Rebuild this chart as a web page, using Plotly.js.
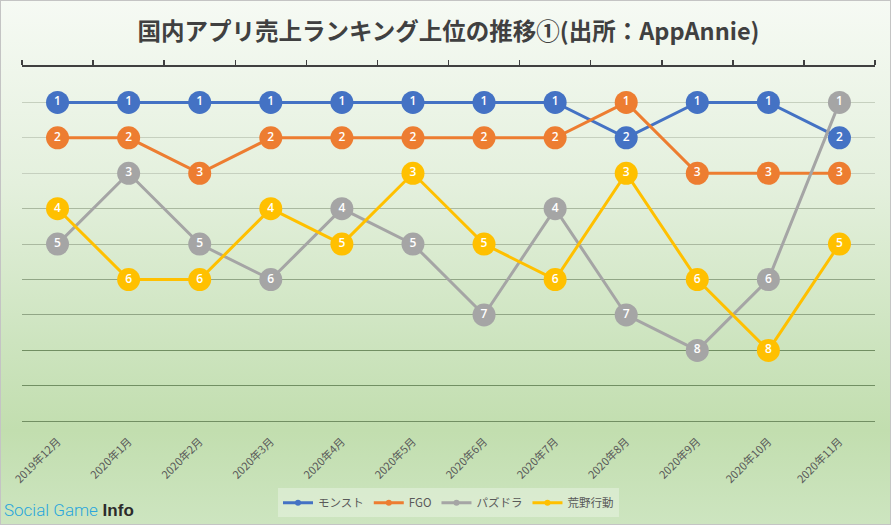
<!DOCTYPE html>
<html>
<head>
<meta charset="utf-8">
<script src="https://cdn.plot.ly/plotly-3.0.1.min.js"></script>
<style>
  html, body { margin: 0; padding: 0; }
  #chart {
    width: 891px; height: 525px;
    background: linear-gradient(to bottom, #f6faf4 0%, #e4f0dd 35%, #cde4bf 65%, #c2deaf 82%, #cde5c0 100%);
    box-shadow: inset 0 0 0 1px #c4c4c4;
  }
</style>
</head>
<body>
<div id="chart"></div>
<script>
const categories = ["2019年12月","2020年1月","2020年2月","2020年3月","2020年4月","2020年5月","2020年6月","2020年7月","2020年8月","2020年9月","2020年10月","2020年11月"];
const seriesNames = ["モンスト","FGO","パズドラ","荒野行動"];
const monst   = [1,1,1,1,1,1,1,1,2,1,1,2];
const fgo     = [2,2,3,2,2,2,2,2,1,3,3,3];
const pazudora= [5,3,5,6,4,5,7,4,7,8,6,1];
const kouya   = [4,6,6,4,5,3,5,6,3,6,8,5];
const rankTicksA = [1,2,3];
const rankTicksB = [4,5];
const rankTicksC = [6,7];
const rankTicksD = [8,9,10];

const seriesValues = [monst, fgo, pazudora, kouya];
const colors = ["#4472C4","#ED7D31","#A5A5A5","#FFC000"];

const traces = [];
seriesValues.forEach((vals, i) => {
  traces.push({
    type: "scatter",
    mode: "lines+markers+text",
    x: categories,
    y: vals,
    text: vals.map(String),
    textposition: "middle center",
    textfont: {family: "Open Sans, Noto Sans, sans-serif", size: 12, color: "#ffffff", weight: 600},
    line: {color: colors[i], width: 3},
    marker: {color: colors[i], size: 23},
    showlegend: false,
    hoverinfo: "skip",
    cliponaxis: false
  });
});
// invisible helper traces so the overlay axes (top line, graded gridlines) are drawn
[["x2","y"],["x","y2"],["x","y3"],["x","y4"]].forEach(([xa, ya]) => {
  traces.push({
    type: "scatter", mode: "markers", x: categories, y: monst,
    xaxis: xa, yaxis: ya,
    marker: {opacity: 0, size: 1}, showlegend: false, hoverinfo: "skip"
  });
});
// legend entries: drawn on an axis whose range lies outside the data, so only the legend shows them
seriesValues.forEach((vals, i) => {
  traces.push({
    type: "scatter",
    mode: "lines+markers",
    x: categories, y: vals,
    xaxis: "x", yaxis: "y5",
    name: seriesNames[i],
    line: {color: colors[i], width: 3},
    marker: {color: colors[i], size: 6},
    showlegend: true, hoverinfo: "skip"
  });
});

const yRange = [10.05, 0];
const yBase = {range: yRange, showticklabels: false, ticks: "", showline: false, zeroline: false, tickmode: "array", fixedrange: true};

const plotTop = 67, plotBottom = 422.8, plotH = plotBottom - plotTop;

const layout = {
  width: 891, height: 525,
  margin: {l: 22, r: 16, t: plotTop, b: 525 - plotBottom, autoexpand: false},
  paper_bgcolor: "rgba(0,0,0,0)",
  plot_bgcolor: "rgba(0,0,0,0)",
  title: {
    text: "国内アプリ売上ランキング上位の推移①(出所：AppAnnie)",
    font: {family: "Noto Sans CJK JP, sans-serif", size: 23.5, color: "#404040", weight: "bold"},
    x: 0.5, xanchor: "center", xref: "paper",
    y: 1 - 32/525, yanchor: "middle", yref: "container"
  },
  xaxis: {
    type: "category", range: [-0.5, 11.5],
    categoryarray: categories, categoryorder: "array",
    showgrid: false, showline: false, zeroline: false,
    ticks: "", tickangle: -45, ticklabelstandoff: 9,
    tickfont: {family: "Noto Sans CJK JP, sans-serif", size: 11, color: "#595959"}
  },
  xaxis2: {
    type: "category", overlaying: "x", side: "top", anchor: "y",
    categoryarray: categories, categoryorder: "array",
    range: [-0.5, 11.5],
    showgrid: false, zeroline: false, showticklabels: false,
    showline: true, linecolor: "#404040", linewidth: 2,
    ticks: "outside", tickson: "boundaries", ticklen: 5, tickwidth: 1.5, tickcolor: "#404040"
  },
  yaxis: Object.assign({}, yBase, {tickvals: rankTicksA, showgrid: true, gridcolor: "#c6d0bf", gridwidth: 1}),
  yaxis2: Object.assign({}, yBase, {overlaying: "y", tickvals: rankTicksB, showgrid: true, gridcolor: "#aab9a0", gridwidth: 1}),
  yaxis3: Object.assign({}, yBase, {overlaying: "y", tickvals: rankTicksC, showgrid: true, gridcolor: "#91a686", gridwidth: 1}),
  yaxis4: Object.assign({}, yBase, {overlaying: "y", tickvals: rankTicksD, showgrid: true, gridcolor: "#728f63", gridwidth: 1}),
  yaxis5: Object.assign({}, yBase, {overlaying: "y", range: [-10, -20], showgrid: false}),
  legend: {
    orientation: "h", x: 0.5, xanchor: "center", y: -(517 - plotBottom) / plotH, yanchor: "bottom",
    bgcolor: "rgba(255,255,255,0.3)",
    font: {family: "Noto Sans CJK JP, sans-serif", size: 11.5, color: "#595959"},
    itemwidth: 30
  },
  annotations: [{
    xref: "paper", yref: "paper",
    x: -20/853, y: -(522 - plotBottom) / plotH,
    xanchor: "left", yanchor: "bottom", showarrow: false,
    text: "<span style='color:#29a6dc;font-family:Roboto;font-weight:300'>Social Game</span> <b>Info</b>",
    font: {family: "Liberation Sans, Arial, sans-serif", size: 17, color: "#2b2b2b"}
  }],
  showlegend: true
};

Plotly.newPlot("chart", traces, layout, {staticPlot: true});
</script>
</body>
</html>
